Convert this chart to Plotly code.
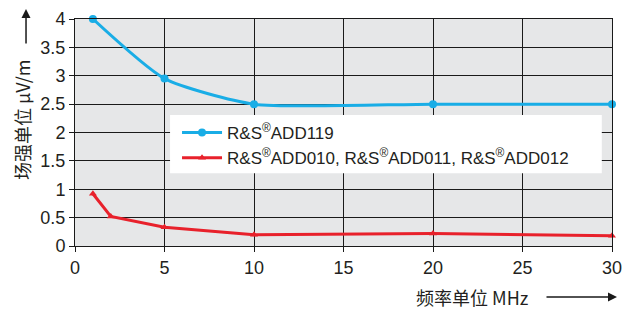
import plotly.graph_objects as go

# Data
add119_freq = [1, 5, 10, 20, 30]
add119_field = [4.0, 2.95, 2.5, 2.5, 2.5]
add01x_freq = [1, 2, 5, 10, 20, 30]
add01x_field = [0.92, 0.52, 0.33, 0.2, 0.22, 0.18]
x_ticks = [0, 5, 10, 15, 20, 25, 30]
y_ticks = [0, 0.5, 1, 1.5, 2, 2.5, 3, 3.5, 4]
y_tick_labels = ["0", "0.5", "1", "1.5", "2", "2.5", "3", "3.5", "4"]
series_names = ["R&S<sup>®</sup>ADD119",
                "R&S<sup>®</sup>ADD010, R&S<sup>®</sup>ADD011, R&S<sup>®</sup>ADD012"]

FONT = "Liberation Sans, Arial, sans-serif"
CJK = "Noto Sans CJK SC, Liberation Sans, sans-serif"

fig = go.Figure()
fig.add_trace(go.Scatter(
    x=add119_freq, y=add119_field, name=series_names[0], mode="lines+markers",
    line=dict(color="#19ade6", width=3, shape="spline", smoothing=0.6),
    marker=dict(symbol="circle", size=8, color="#19ade6"), cliponaxis=False,
))
fig.add_trace(go.Scatter(
    x=add01x_freq, y=add01x_field, name=series_names[1], mode="lines+markers",
    line=dict(color="#e8212b", width=3),
    marker=dict(symbol="triangle-up", size=7, color="#e8212b"), cliponaxis=False,
))

# legend background box
fig.add_shape(type="rect", xref="paper", yref="paper",
              x0=0.177, x1=0.981, y0=0.32, y1=0.577,
              fillcolor="white", line=dict(width=0), layer="above")

# page body has an 8px margin, so margins are offset accordingly
fig.update_layout(
    width=630, height=314,
    margin=dict(l=67, r=26, t=11, b=76, autoexpand=False),
    paper_bgcolor="white", plot_bgcolor="#e6e7e8",
    font=dict(family=FONT, size=17, color="#231f20"),
    showlegend=True,
    legend=dict(x=0.19, y=0.577, xanchor="left", yanchor="top",
                bgcolor="rgba(0,0,0,0)", font=dict(size=17, family=FONT, color="#231f20"),
                tracegroupgap=0, itemwidth=40),
    xaxis=dict(range=[0, 30], tickvals=x_ticks, showgrid=True, gridcolor="#1a1a1a",
               gridwidth=1, showline=True, linecolor="#1a1a1a", linewidth=1, mirror=True,
               ticks="outside", ticklen=5, tickcolor="#1a1a1a", zeroline=False,
               tickfont=dict(size=18), automargin=False),
    yaxis=dict(range=[0, 4], tickvals=y_ticks, ticktext=y_tick_labels, showgrid=True,
               gridcolor="#1a1a1a", gridwidth=1, showline=True, linecolor="#1a1a1a",
               linewidth=1, mirror=True, ticks="outside", ticklen=5, tickcolor="#1a1a1a",
               zeroline=False, tickfont=dict(size=18), automargin=False),
)

# axis titles
fig.add_annotation(text="场强单位 µV/m", xref="paper", yref="paper",
                   x=-0.0987, y=0.555, xanchor="center", yanchor="middle",
                   textangle=-90, showarrow=False,
                   font=dict(family=CJK, size=18, color="#231f20"))
fig.add_annotation(text="", xref="paper", yref="paper", x=-0.0912, y=1.048,
                   ax=0, ay=37, axref="pixel", ayref="pixel", showarrow=True,
                   arrowhead=2, arrowsize=1.2, arrowwidth=1.5, arrowcolor="#1a1a1a")
fig.add_annotation(text="频率单位 MHz", xref="paper", yref="paper",
                   x=0.741, y=-0.2247, xanchor="center", yanchor="middle",
                   showarrow=False,
                   font=dict(family=CJK, size=18, color="#231f20"))
fig.add_annotation(text="", xref="paper", yref="paper", x=1.0093, y=-0.2247,
                   ax=-72, ay=0, axref="pixel", ayref="pixel", showarrow=True,
                   arrowhead=2, arrowsize=1.2, arrowwidth=1.5, arrowcolor="#1a1a1a")

fig.write_html("out.html")
